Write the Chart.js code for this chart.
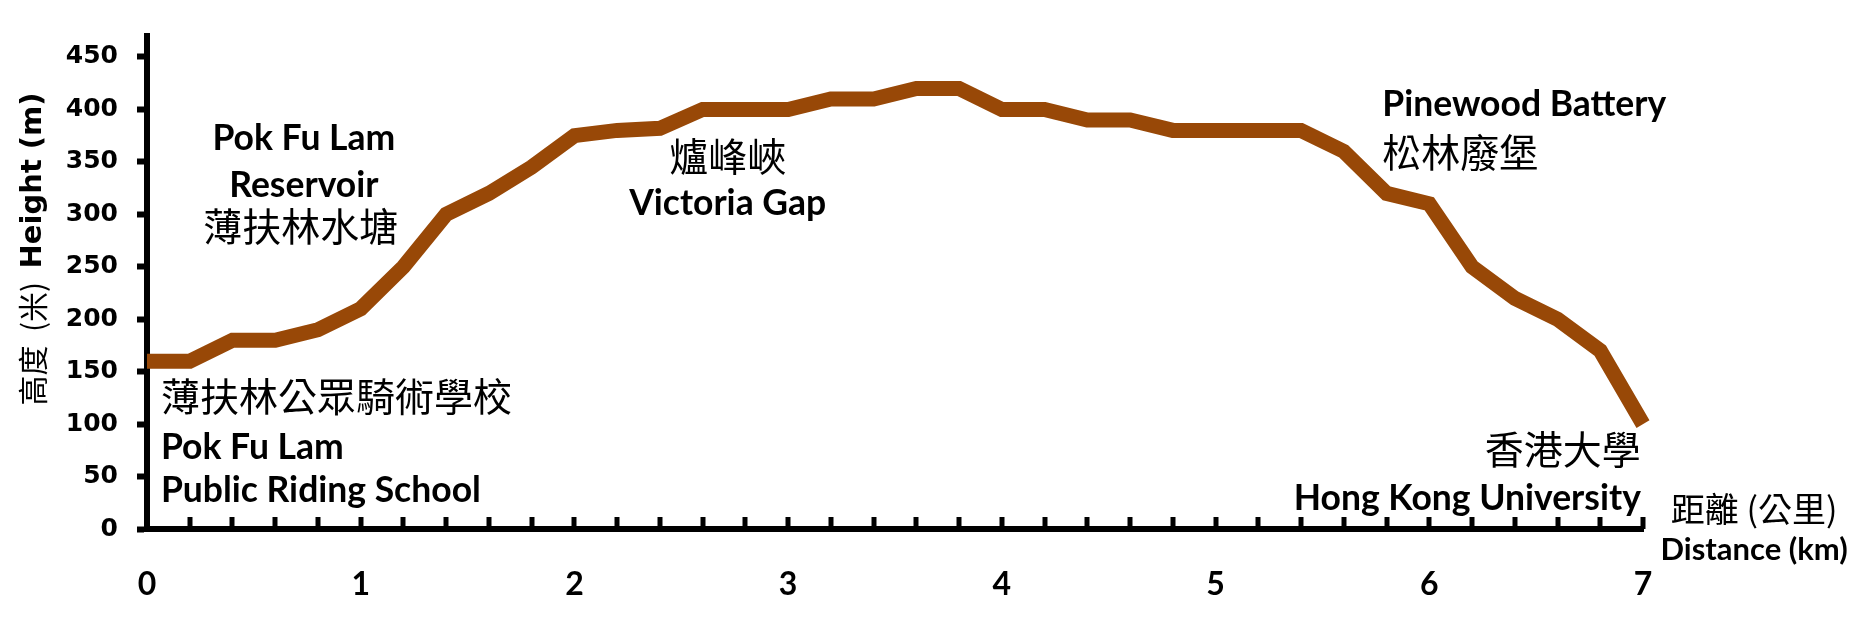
<!DOCTYPE html>
<html>
<head>
<meta charset="utf-8">
<script src="https://cdn.jsdelivr.net/npm/chart.js@4.4.1/dist/chart.umd.min.js"></script>
<style>
  html, body { margin: 0; padding: 0; background: #fff; }
</style>
</head>
<body>
<canvas id="profileChart" width="1861" height="620"></canvas>
<script>
// ===== data =====
const distanceKm = [0, 0.2, 0.4, 0.6, 0.8, 1, 1.2, 1.4, 1.6, 1.8, 2, 2.2, 2.4, 2.6, 2.8, 3, 3.2, 3.4,
  3.6, 3.8, 4, 4.2, 4.4, 4.6, 4.8, 5, 5.2, 5.4, 5.6, 5.8, 6, 6.2, 6.4, 6.6, 6.8, 7];
const heightM = [160, 160, 180, 180, 190, 210, 250, 300, 320, 345, 375, 380, 382, 400, 400, 400, 410, 410,
  420, 420, 400, 400, 390, 390, 380, 380, 380, 380, 360, 320, 310, 250, 220, 200, 170, 100];
const yTickValues = [0, 50, 100, 150, 200, 250, 300, 350, 400, 450];
const xTickValues = [0, 1, 2, 3, 4, 5, 6, 7];

const LATIN = 'bold 35.5px Lato';
const CJK = '39px "Noto Sans CJK TC"';

// place names, positioned in km / metres
const labels = [
  { text: 'Pok Fu Lam', x: 0.734, y: 372, align: 'center', font: LATIN },
  { text: 'Reservoir', x: 0.734, y: 327, align: 'center', font: LATIN },
  { text: '薄扶林水塘', x: 0.72, y: 289, align: 'center', font: CJK },
  { text: '爐峰峽', x: 2.717, y: 355, align: 'center', font: CJK },
  { text: 'Victoria Gap', x: 2.717, y: 310, align: 'center', font: LATIN },
  { text: 'Pinewood Battery', x: 5.78, y: 405, align: 'left', font: LATIN },
  { text: '松林廢堡', x: 5.78, y: 359, align: 'left', font: CJK },
  { text: '薄扶林公眾騎術學校', x: 0.065, y: 127, align: 'left', font: CJK },
  { text: 'Pok Fu Lam', x: 0.065, y: 78, align: 'left', font: LATIN },
  { text: 'Public Riding School', x: 0.065, y: 37, align: 'left', font: LATIN },
  { text: '香港大學', x: 6.99, y: 76, align: 'right', font: CJK },
  { text: 'Hong Kong University', x: 6.99, y: 29, align: 'right', font: LATIN },
  { text: '距離 (公里)', x: 7.52, y: 19, align: 'center', font: '34px "Noto Sans CJK TC"' },
  { text: 'Distance (km)', x: 7.52, y: -20, align: 'center', font: 'bold 31px Lato' }
];

const decor = {
  id: 'decor',
  afterDraw(chart) {
    const { ctx, scales: { x, y } } = chart;
    ctx.save();
    // small ticks pointing up from the x axis
    ctx.strokeStyle = '#000';
    ctx.lineWidth = 5;
    distanceKm.slice(1).forEach(d => {
      const px = Math.round(x.getPixelForValue(d));
      ctx.beginPath();
      ctx.moveTo(px, y.bottom);
      ctx.lineTo(px, y.bottom - 12);
      ctx.stroke();
    });

    ctx.fillStyle = '#000';
    ctx.textBaseline = 'middle';
    labels.forEach(l => {
      ctx.font = l.font;
      ctx.textAlign = l.align;
      ctx.fillText(l.text, x.getPixelForValue(l.x), y.getPixelForValue(l.y));
    });

    // y axis title, mixed scripts
    ctx.translate(33, 249);
    ctx.rotate(-Math.PI / 2);
    const partA = '高度  (米)  ';
    const partB = 'Height (m)';
    const fontA = '30px "Noto Sans CJK TC"';
    const fontB = 'bold 29px "DejaVu Sans"';
    ctx.font = fontA;
    const wA = ctx.measureText(partA).width;
    ctx.font = fontB;
    const wB = ctx.measureText(partB).width;
    ctx.textAlign = 'left';
    ctx.font = fontA;
    ctx.fillText(partA, -(wA + wB) / 2, 0);
    ctx.font = fontB;
    ctx.fillText(partB, -(wA + wB) / 2 + wA, 0);
    ctx.restore();
  }
};

new Chart(document.getElementById('profileChart'), {
  type: 'line',
  data: {
    datasets: [{
      data: distanceKm.map((d, i) => ({ x: d, y: heightM[i] })),
      borderColor: '#984807',
      borderWidth: 15,
      borderJoinStyle: 'miter',
      borderCapStyle: 'butt',
      pointRadius: 0,
      tension: 0,
      clip: false
    }]
  },
  options: {
    responsive: false,
    animation: false,
    layout: { padding: { top: 36, right: 218, left: 0, bottom: 0 } },
    plugins: { legend: { display: false }, tooltip: { enabled: false } },
    scales: {
      x: {
        type: 'linear',
        min: 0,
        max: 7,
        afterBuildTicks: s => { s.ticks = xTickValues.map(v => ({ value: v })); },
        afterFit: s => { s.height = 91; },
        ticks: { color: '#000', font: { family: 'Lato', weight: 'bold', size: 32 }, padding: 36 },
        grid: { display: false, drawTicks: false },
        border: { display: true, color: '#000', width: 6 }
      },
      y: {
        min: 0,
        max: 470,
        afterBuildTicks: s => { s.ticks = yTickValues.map(v => ({ value: v })); },
        afterFit: s => { s.width = 147; },
        ticks: { color: '#000', font: { family: 'DejaVu Sans', weight: 'bold', size: 25 }, padding: 19 },
        grid: { drawOnChartArea: false, drawTicks: true, tickLength: 10, tickWidth: 6, tickColor: '#000' },
        border: { display: true, color: '#000', width: 6 }
      }
    }
  },
  plugins: [decor]
});
</script>
</body>
</html>
